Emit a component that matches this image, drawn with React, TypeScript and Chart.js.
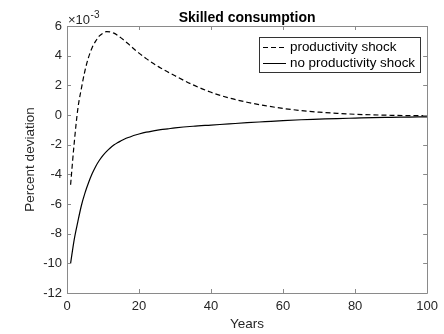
import React, { useEffect, useRef } from "react";
import { Chart, registerables } from "chart.js";

Chart.register(...registerables);

// Values in units of 1e-3 (percent deviation)
const years = [1, 2, 3, 4, 5, 6, 7, 8, 9, 10, 11, 12, 13, 14, 15, 16, 17, 18, 19, 20, 22, 24, 26, 28, 30, 35, 40, 45, 50, 55, 60, 65, 70, 75, 80, 85, 90, 95, 100];
const shockValues = [-4.7, -1.9, 0.4, 1.8, 3.0, 3.9, 4.55, 5.0, 5.33, 5.52, 5.62, 5.6, 5.52, 5.38, 5.2, 5.0, 4.8, 4.58, 4.37, 4.17, 3.8, 3.47, 3.17, 2.9, 2.64, 2.03, 1.53, 1.15, 0.86, 0.63, 0.44, 0.3, 0.19, 0.11, 0.05, 0.01, -0.02, -0.04, -0.05];
const noShockValues = [-10, -8.4, -7.2, -6.1, -5.25, -4.55, -3.95, -3.45, -3.05, -2.72, -2.45, -2.22, -2.03, -1.87, -1.74, -1.62, -1.52, -1.43, -1.35, -1.28, -1.16, -1.07, -0.99, -0.93, -0.87, -0.76, -0.68, -0.6, -0.52, -0.45, -0.38, -0.32, -0.28, -0.24, -0.21, -0.18, -0.16, -0.14, -0.12];
const seriesLabels = ["productivity shock", "no productivity shock"];
const xTicks = [0, 20, 40, 60, 80, 100];
const yTicks = [-12, -10, -8, -6, -4, -2, 0, 2, 4, 6];
const titleText = "Skilled consumption";
const xTitle = "Years";
const yTitle = "Percent deviation";

const FONT = "Arial, 'Liberation Sans', Helvetica, sans-serif";
const AXIS_COLOR = "#8a8a8a";
const TEXT_COLOR = "#262626";

const overlayPlugin = {
  id: "matlabOverlay",
  afterDraw(chart: any) {
    const { ctx, chartArea } = chart;
    const { left, right, top, bottom } = chartArea;
    const xs = chart.scales.x;
    const ys = chart.scales.y;
    ctx.save();
    // box
    ctx.strokeStyle = AXIS_COLOR;
    ctx.lineWidth = 1;
    ctx.beginPath();
    ctx.rect(Math.round(left) + 0.5, Math.round(top) + 0.5, Math.round(right - left), Math.round(bottom - top));
    ctx.stroke();
    // ticks
    const tl = 4;
    ctx.beginPath();
    xTicks.forEach((t) => {
      const px = Math.round(xs.getPixelForValue(t)) + 0.5;
      ctx.moveTo(px, bottom);
      ctx.lineTo(px, bottom - tl);
      ctx.moveTo(px, top);
      ctx.lineTo(px, top + tl);
    });
    yTicks.forEach((t) => {
      const py = Math.round(ys.getPixelForValue(t)) + 0.5;
      ctx.moveTo(left, py);
      ctx.lineTo(left + tl, py);
      ctx.moveTo(right, py);
      ctx.lineTo(right - tl, py);
    });
    ctx.stroke();

    // title
    ctx.fillStyle = "#000";
    ctx.font = `bold 14px ${FONT}`;
    ctx.textAlign = "center";
    ctx.textBaseline = "alphabetic";
    ctx.fillText(titleText, (left + right) / 2, 22);

    // exponent
    ctx.fillStyle = TEXT_COLOR;
    ctx.textAlign = "left";
    ctx.font = `13px ${FONT}`;
    ctx.fillText("\u00d710", left + 1, 24);
    const w = ctx.measureText("\u00d710").width;
    ctx.font = `10px ${FONT}`;
    ctx.fillText("-3", left + 1 + w + 0.5, 18);

    // axis titles
    ctx.font = `13.5px ${FONT}`;
    ctx.textAlign = "center";
    ctx.textBaseline = "middle";
    ctx.fillText(xTitle, (left + right) / 2, 324);
    ctx.save();
    ctx.translate(30, (top + bottom) / 2);
    ctx.rotate(-Math.PI / 2);
    ctx.fillText(yTitle, 0, 0);
    ctx.restore();

    // legend
    const lx = 259, ly = 37, lw = 161, lh = 35;
    ctx.fillStyle = "#fff";
    ctx.fillRect(lx, ly, lw, lh);
    ctx.strokeStyle = "#333";
    ctx.lineWidth = 1;
    ctx.strokeRect(lx + 0.5, ly + 0.5, lw, lh);
    const rows = [ly + 10.5, ly + 26.5];
    ctx.strokeStyle = "#000";
    ctx.lineWidth = 1;
    ctx.beginPath();
    ctx.setLineDash([5, 3]);
    ctx.moveTo(263, rows[0]);
    ctx.lineTo(286, rows[0]);
    ctx.stroke();
    ctx.setLineDash([]);
    ctx.beginPath();
    ctx.moveTo(263, rows[1]);
    ctx.lineTo(286, rows[1]);
    ctx.stroke();
    ctx.fillStyle = "#000";
    ctx.font = `13.4px ${FONT}`;
    ctx.textAlign = "left";
    ctx.textBaseline = "middle";
    ctx.fillText(seriesLabels[0], 290, rows[0]);
    ctx.fillText(seriesLabels[1], 290, rows[1]);
    ctx.restore();
  },
};

export default function App() {
  const ref = useRef<HTMLCanvasElement | null>(null);
  useEffect(() => {
    document.body.style.margin = "0";
    const canvas = ref.current!;
    const chart = new Chart(canvas, {
      type: "line",
      data: {
        datasets: [
          {
            label: seriesLabels[0],
            data: years.map((x, i) => ({ x, y: shockValues[i] })),
            borderColor: "#000",
            borderWidth: 1.2,
            borderDash: [5, 3],
            pointRadius: 0,
            cubicInterpolationMode: "monotone",
            fill: false,
          },
          {
            label: seriesLabels[1],
            data: years.map((x, i) => ({ x, y: noShockValues[i] })),
            borderColor: "#000",
            borderWidth: 1.2,
            pointRadius: 0,
            cubicInterpolationMode: "monotone",
            fill: false,
          },
        ],
      },
      options: {
        responsive: false,
        animation: false,
        devicePixelRatio: 1,
        layout: { padding: { left: 0, right: 14, top: 26, bottom: 0 } },
        plugins: { legend: { display: false }, title: { display: false }, tooltip: { enabled: false } },
        scales: {
          x: {
            type: "linear",
            min: 0,
            max: 100,
            afterFit: (s: any) => { s.height = 41; },
            afterBuildTicks: (s: any) => { s.ticks = xTicks.map((v) => ({ value: v })); },
            grid: { display: false, drawTicks: false },
            border: { display: false },
            ticks: { color: TEXT_COLOR, font: { family: FONT, size: 13 }, padding: 6, maxRotation: 0 },
          },
          y: {
            type: "linear",
            min: -12,
            max: 6,
            afterFit: (s: any) => { s.width = 67; },
            afterBuildTicks: (s: any) => { s.ticks = yTicks.map((v) => ({ value: v })); },
            grid: { display: false, drawTicks: false },
            border: { display: false },
            ticks: { color: TEXT_COLOR, font: { family: FONT, size: 13 }, padding: 5 },
          },
        },
      },
      plugins: [overlayPlugin],
    } as any);
    return () => chart.destroy();
  }, []);
  return (
    <div style={{ width: 444, height: 334, background: "#fff" }}>
      <canvas ref={ref} width={444} height={334} style={{ display: "block" }} />
    </div>
  );
}
